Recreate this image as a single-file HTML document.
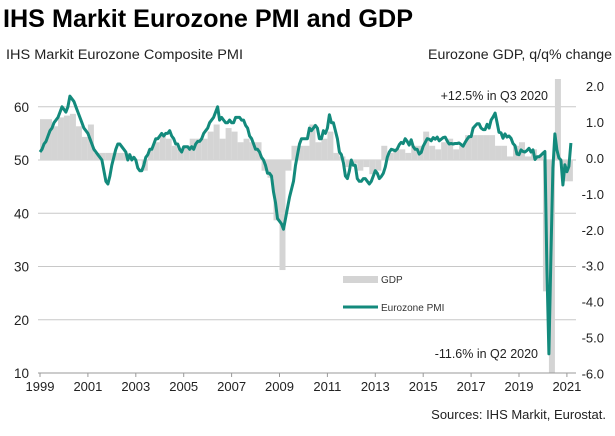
<!DOCTYPE html>
<html><head><meta charset="utf-8"><style>
body{margin:0;background:#fff;width:615px;height:431px;overflow:hidden;font-family:"Liberation Sans",sans-serif}
</style></head><body>
<svg id="chart" width="615" height="431" xmlns="http://www.w3.org/2000/svg" font-family="Liberation Sans, sans-serif">
<text x="3" y="27" font-size="25" font-weight="bold" fill="#000" textLength="410" lengthAdjust="spacingAndGlyphs">IHS Markit Eurozone PMI and GDP</text>
<text x="6" y="59" font-size="13.5" fill="#222" textLength="237" lengthAdjust="spacingAndGlyphs">IHS Markit Eurozone Composite PMI</text>
<text x="612" y="59" font-size="13.5" fill="#222" text-anchor="end" textLength="184" lengthAdjust="spacingAndGlyphs">Eurozone GDP, q/q% change</text>
<text x="606" y="419" font-size="13" fill="#222" text-anchor="end">Sources: IHS Markit, Eurostat.</text>
<g id="grid"></g><g id="bars"></g><g id="axes"></g><g id="line"></g>
<text x="548" y="100" font-size="12.5" fill="#222" text-anchor="end">+12.5% in Q3 2020</text>
<text x="538" y="358" font-size="12.5" fill="#222" text-anchor="end">-11.6% in Q2 2020</text>
<rect x="343" y="276" width="35" height="7" fill="#d4d4d4"/>
<text x="381" y="283" font-size="10" fill="#333">GDP</text>
<line x1="343" y1="307" x2="378" y2="307" stroke="#138a7c" stroke-width="3"/>
<text x="381" y="311" font-size="10" fill="#333">Eurozone PMI</text>
</svg>
<script>
const pmiStartYear = 1999;
const pmi = [
51.5,52,53,53.5,54.5,55.5,56,57,57.5,58,59,60,
59.5,59,60,62,61.5,61,60,59,58,57,56,55.5,
55,54,53,52,51.5,51,50.5,50,48,46,45.5,47,
49,50.5,52,53,53,52.5,52,51.5,50,51,50,50.5,
50,48.5,48,48,49,50.5,51,52,52,53,54,54,
54.5,55,54.5,55,55,55.5,54.5,54,53,53,52,51.5,
52.5,52.5,52.5,52,52.5,52,53,53.5,53.5,54,55,55.5,
56,57,57.5,58,59,60,57.5,58,57.5,57,57,57.5,
57,57,58,58,58,57.5,57.5,56.5,56,54.5,54,53,
52,52,51.5,50.5,50,49,47.5,47.5,47,44,42,39,
38.5,38,37,39,41,43,44.5,46,49,51,53,54,
54,54,54,56,55.5,56,56.5,56,54,54,55.5,55,
56,58.5,57,57,55.5,54,51.5,51,49.5,47,46.5,48,
50,49,49,46.5,46,46,46.5,46.5,46,45.5,46,47,
48,47.5,46.5,46.9,47.5,48.7,50.5,51.5,52,51.9,51.7,52.1,
52.9,53.3,53.1,54,53.5,52.8,53.8,52.5,52,52,51.1,51.4,
52.6,53.3,54,53.9,53.6,54.2,53.9,54.3,53.6,53.9,54.2,54.3,
53.6,53,53.1,53,53.1,53.1,53.2,52.9,52.6,53.3,53.9,54.4,
54.4,56,56.4,56.8,56.8,56,55.7,55.7,56.7,56,57.5,58.1,
58.8,57.1,55.2,55.1,54.1,54.9,54.3,54.5,54.1,53.1,52.7,51.1,
51,51.9,51.6,51.5,51.8,52.2,51.5,51.9,50.1,50.6,50.6,50.9,
51.3,51.6,29.7,13.6,31.9,48.5,54.9,51.9,50.4,50,45.3,49.1,
47.8,48.8,53.2];
const gdp = [
1.15,1.15,0.95,1.2, 1.25,1.3,0.95,0.65, 1.0,0.2,0.2,0.2, 0.2,0.2,0.2,0.1,
0.0,-0.3,0.3,0.5, 0.7,0.6,0.4,0.3, 0.4,0.6,0.6,0.6, 0.8,1.0,0.6,0.9,
0.8,0.5,0.6,0.5, 0.5,-0.3,-0.5,-1.7, -3.1,-0.3,0.4,0.4, 0.4,1.0,0.5,0.6,
0.8,0.2,0.1,-0.2, -0.1,-0.3,-0.2,-0.4, -0.3,0.4,0.2,0.3, 0.3,0.2,0.4,0.4,
0.8,0.4,0.3,0.5, 0.6,0.3,0.4,0.7, 0.7,0.7,0.7,0.7, 0.4,0.4,0.1,0.4,
0.5,0.1,0.3,0.1, -3.7,-11.6,12.5,-0.6, -0.6];
const leftTicks = [10,20,30,40,50,60];
const rightTicks = ["2.0","1.0","0.0","-1.0","-2.0","-3.0","-4.0","-5.0","-6.0"];
const xTicks = [1999,2001,2003,2005,2007,2009,2011,2013,2015,2017,2019,2021];

const NS="http://www.w3.org/2000/svg";
const X0=40, PXY=23.95, TOP=79, BOT=373;
const x = t => X0 + (t - pmiStartYear) * PXY;
const yP = v => 160 - (v - 50) * 5.325;
const yG = v => 160 - v * 35.5;
const yR = v => 159 - v * 35.9;
const clampY = y => Math.max(TOP, Math.min(BOT, y));
function mk(tag, attrs, parent){const e=document.createElementNS(NS,tag);for(const k in attrs)e.setAttribute(k,attrs[k]);parent.appendChild(e);return e;}
const grid=document.getElementById('grid'), bars=document.getElementById('bars'), axes=document.getElementById('axes'), line=document.getElementById('line');

leftTicks.forEach(v=>{
  if(v>10){const g=mk('line',{x1:38,x2:576,y1:yP(v),y2:yP(v),stroke:'#c8c8c8','stroke-width':1},grid);
  
  }
  const t=mk('text',{x:29,y:yP(v)+5,'font-size':13.5,fill:'#222','text-anchor':'end'},axes);
  t.textContent=v;
  
  
});
rightTicks.forEach((s,i)=>{
  const v=parseFloat(s);
  const t=mk('text',{x:604,y:yR(v)+4,'font-size':13,fill:'#222','text-anchor':'end'},axes);
  t.textContent=s;
  
  
});
gdp.forEach((v,i)=>{
  const t=pmiStartYear+i/4;
  const y1=clampY(yG(Math.max(v,0))), y2=clampY(yG(Math.min(v,0)));
  const r=mk('rect',{x:x(t),y:y1,width:PXY/4,height:Math.max(0,y2-y1),fill:'#d4d4d4'},bars);
  
  
});
const ax=mk('line',{x1:38,x2:576,y1:BOT,y2:BOT,stroke:'#999','stroke-width':1},axes);


xTicks.forEach(yr=>{
  mk('line',{x1:x(yr),x2:x(yr),y1:BOT,y2:BOT+4,stroke:'#999'},axes);
  const t=mk('text',{x:x(yr),y:391,'font-size':13,fill:'#222','text-anchor':'middle'},axes);
  t.textContent=yr;
  
  
});
const pts=pmi.map((v,i)=>x(pmiStartYear+i/12).toFixed(1)+','+yP(v).toFixed(1)).join(' ');
const pl=mk('polyline',{points:pts,fill:'none',stroke:'#138a7c','stroke-width':3,'stroke-linejoin':'round'},line);


</script>
</body></html>
